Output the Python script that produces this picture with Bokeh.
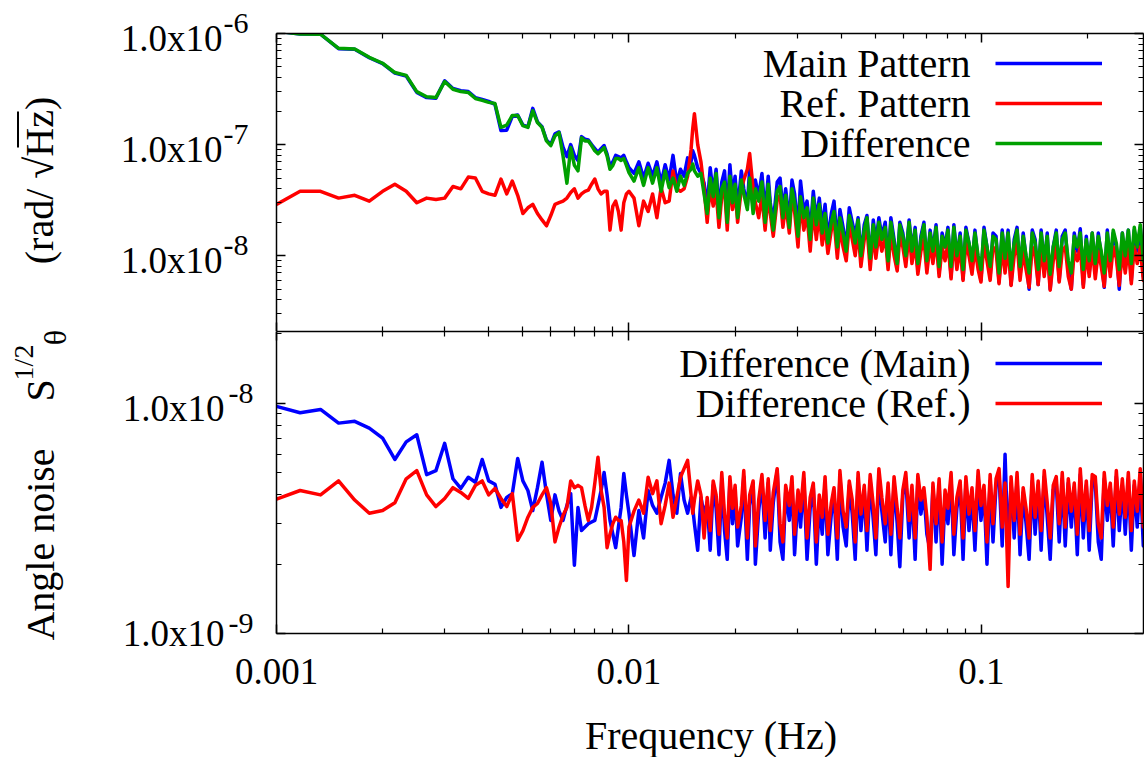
import numpy as np
from math import pi, log10
from bokeh.plotting import figure
from bokeh.layouts import row, column
from bokeh.models import (Range1d, LogAxis, FixedTicker, Label, Legend, LegendItem,
                          BoxAnnotation, NumeralTickFormatter, CustomJSTickFormatter)
from bokeh.embed import file_html
from bokeh.resources import INLINE

# ---------------- data ----------------
DF_HZ = 1.0 / 6000.0          # frequency resolution of the spectra
BINS_LOW = list(range(6, 61))
BINS_MID = [62, 64, 66, 68, 70, 72, 74, 76, 78, 80, 82, 84, 86, 88, 90, 91, 92, 94, 96, 98]
BINS_HIGH = [100, 102, 104, 106, 108, 110, 112, 114, 116, 118,
             120, 122, 125, 127, 130, 132, 135, 137, 140, 143,
             146, 149, 151, 154, 158, 161, 164, 167, 171, 174,
             177, 181, 184, 188, 192, 196, 200, 204, 208, 212,
             216, 220, 225, 229, 234, 238, 243, 248, 253, 258,
             263, 268, 273, 279, 284, 290, 296, 301, 307, 313,
             320, 326, 332, 339, 346, 352, 359, 366, 374, 381,
             389, 396, 404, 412, 420, 429, 437, 446, 455, 464,
             473, 482, 492, 501, 511, 522, 532, 542, 553, 564,
             575, 587, 598, 610, 622, 635, 647, 660, 673, 687,
             700, 714, 728, 743, 757, 772, 788, 803, 819, 836,
             852, 869, 886, 904, 922, 940, 959, 978, 997, 1017,
             1037, 1058, 1079, 1100, 1122, 1144, 1167, 1190, 1213, 1237,
             1262, 1287, 1312, 1338, 1365, 1392, 1419, 1448, 1476, 1506,
             1535, 1566, 1597, 1628, 1660, 1693, 1727, 1761]
BINS = BINS_LOW + BINS_MID + BINS_HIGH

# top panel, nrad/sqrt(Hz)
TOP_MAIN = [
    1050, 990, 985, 730, 720, 605, 535, 440, 415, 295,
    265, 262, 375, 320, 305, 300, 265, 255, 245, 230,
    134, 135, 180, 185, 150, 145, 212, 160, 145, 110,
    100, 125, 130, 95, 78, 100, 80, 72, 118, 112,
    110, 100, 92, 85, 92, 98, 82, 64, 70, 80,
    78, 76, 80, 70, 62,
    55, 70, 50, 68, 52, 70, 45, 66, 48, 80, 45, 60, 52, 76, 70, 88, 80, 62, 55, 45,
    28, 62, 36, 60, 26, 46, 58, 24, 66, 34,
    52, 26, 58, 40, 28, 62, 27, 48, 34, 55,
    24, 52, 30, 20, 46, 50, 25, 40, 20, 48,
    36, 17, 47, 25, 31, 16, 38, 21, 33, 18,
    29, 14, 24, 31, 13, 26, 18, 12, 27, 20,
    15, 22, 10, 19, 23, 9, 21, 13, 22, 15,
    20, 8.5, 22, 14, 8, 20, 16, 9.5, 21, 11,
    18, 7.5, 15, 20, 8, 17, 11, 19, 7, 16,
    12, 18, 6.5, 19, 9.5, 16, 6.2, 18, 13, 8,
    17, 9, 6, 18, 12, 6.5, 16, 15, 5.8, 17,
    8.5, 17, 5.5, 14, 18, 6.5, 16, 9.5, 5, 17,
    14, 5.5, 17, 8, 16, 5, 12, 17, 6, 15,
    17, 7.5, 5, 16, 11, 17.5, 5.5, 15, 7, 16,
    7, 16, 10, 5.2, 17, 7.5, 16, 12, 5, 16,
    8, 17, 6, 17, 11, 18, 6.5, 17]
TOP_REF = [
    29, 38, 38, 33, 35, 31, 38, 44, 38, 30,
    33, 32, 33, 42, 40, 51, 50, 38, 36, 35,
    49, 36, 47, 35, 24, 27, 29, 24, 21, 18.6,
    23, 29, 30, 31, 33, 37, 40, 33, 36, 38,
    39, 44, 49, 40, 36, 38, 38, 17, 28, 31,
    25, 17, 30, 36, 38,
    33, 18.6, 31, 25, 36, 22, 41, 30, 31, 58, 40, 38, 40, 52, 90, 140, 190, 100, 70, 40,
    20, 42, 28, 38, 18, 34, 40, 17, 48, 26,
    38, 20, 40, 48, 60, 83, 40, 30, 22, 35,
    17, 36, 24, 15, 32, 35, 18, 29, 16, 34,
    25, 12, 30, 17, 23, 11, 26, 14, 24, 12.5,
    19, 10.5, 17, 21, 9.5, 18, 12, 9, 19, 14,
    10, 17, 8, 14, 18, 7.5, 16, 9.5, 16, 11,
    15, 7.5, 16, 10, 7.3, 15, 12, 8, 16, 8.5,
    13, 6.8, 11, 14, 7, 13, 8.5, 14, 6.5, 12,
    9, 13, 6.2, 14, 7.5, 12, 6, 13, 10, 6.8,
    12, 7.5, 5.8, 13, 9, 6, 12, 11, 5.6, 12,
    7, 12, 5.4, 10, 13, 6, 11, 7.5, 5.2, 12,
    10, 5.5, 12, 6.5, 11, 4.9, 9, 12, 5.8, 11,
    12, 6.5, 5, 11, 9, 12, 5.2, 11, 6.5, 12,
    6.2, 11, 8, 5.3, 12, 6.5, 12, 9.5, 5.4, 11,
    7, 12, 5.6, 12, 8.5, 12, 6, 12]
TOP_DIFF = [
    1050, 990, 985, 735, 725, 610, 540, 445, 420, 300,
    270, 265, 370, 315, 300, 295, 260, 250, 240, 234,
    143, 150, 183, 183, 148, 143, 202, 158, 143, 108,
    98, 120, 128, 79, 45, 94, 65, 58, 115, 108,
    108, 98, 88, 83, 88, 94, 79, 60, 65, 75,
    75, 72, 75, 65, 56,
    47, 62, 43, 62, 45, 62, 38, 58, 41, 50, 38, 52, 43, 55, 60, 67, 58, 52, 55, 36,
    24, 50, 34, 55, 22, 40, 46, 20, 52, 30,
    44, 22, 48, 36, 26, 50, 24, 40, 31, 46,
    20, 44, 28, 17, 38, 42, 22, 35, 18, 40,
    30, 15, 34, 22, 27, 14, 33, 19, 29, 16,
    24, 13, 20, 25, 12, 22, 16, 11, 23, 18,
    13, 21, 10, 17, 22, 9.5, 19, 12, 20, 14,
    18, 9, 20, 13, 8.5, 19, 15, 10, 20, 11,
    17, 8.5, 14, 19, 9, 16, 11, 18, 8, 15,
    12, 17, 8, 18, 10, 15, 7.5, 17, 13, 9,
    16, 10, 7.5, 17, 12, 8, 15, 14, 7, 16,
    9.5, 16, 7.5, 13, 17, 8, 15, 10, 7, 16,
    13, 7.5, 16, 9, 15, 6.8, 12, 16, 8, 14,
    16, 9, 7, 15, 12, 16, 7.5, 14, 9, 16,
    8.5, 15, 11, 7, 16, 9, 17, 13, 7.5, 16,
    10, 17, 8.5, 18, 12, 19, 9, 18]

# bottom panel, nrad/sqrt(Hz)
BOT_MAIN = [
    9.7, 9.1, 9.4, 8.2, 8.35, 7.8, 7.05, 5.7, 6.8, 7.3,
    4.9, 5.1, 6.7, 4.7, 4.27, 4.77, 4.54, 5.7, 4.6, 4.45,
    3.53, 3.9, 4.05, 5.76, 4.6, 4.18, 3.42, 4.3, 5.54, 4.05,
    3.1, 4.0, 3.4, 3.1, 3.6, 4.05, 1.98, 3.53, 2.8, 2.9,
    3.0, 3.05, 3.1, 3.6, 4.18, 5.0, 4.0, 3.1, 2.7, 2.36,
    2.9, 3.53, 4.95, 4.0, 3.33,
    2.18, 3.42, 2.6, 4.18, 3.6, 3.33, 3.9, 4.5, 5.65, 4.0, 3.33, 4.95, 3.8, 3.33, 3.9, 3.5, 3.0, 2.3, 3.9, 3.3,
    3.7, 2.3, 4.4, 3.5, 2.2, 4.7, 2.8, 2.1, 4.6, 3.0,
    4.1, 2.4, 3.2, 4.8, 2.1, 3.6, 4.5, 2.0, 3.4, 4.6,
    2.6, 4.5, 2.3, 3.7, 5.1, 2.5, 2.1, 4.1, 3.1, 4.5,
    2.2, 4.0, 2.9, 4.7, 2.1, 3.5, 4.3, 2.0, 3.7, 2.7,
    4.5, 2.2, 3.3, 4.1, 2.1, 4.8, 2.9, 2.4, 4.4, 3.3,
    2.1, 4.7, 2.8, 4.2, 2.3, 4.6, 3.1, 2.2, 4.9, 3.4,
    2.5, 4.3, 2.2, 4.5, 3.0, 1.95, 4.0, 4.7, 2.6, 4.2,
    2.1, 4.6, 3.3, 4.1, 2.7, 2.3, 4.3, 2.5, 4.4, 2.0,
    3.9, 3.0, 4.7, 2.2, 3.5, 4.4, 2.1, 4.5, 2.8, 4.1,
    2.3, 4.8, 3.1, 4.2, 2.0, 4.6, 2.5, 4.4, 4.9, 2.4,
    6.0, 2.3, 4.5, 2.6, 4.7, 2.2, 4.1, 3.0, 2.1, 4.6,
    2.7, 4.4, 2.3, 4.8, 3.2, 2.1, 4.2, 4.5, 2.5, 4.7,
    2.4, 4.5, 2.9, 4.3, 2.2, 4.9, 2.6, 4.4, 2.3, 4.6,
    4.5, 2.5, 2.1, 4.7, 3.1, 4.3, 2.4, 4.8, 2.8, 4.4,
    2.7, 4.7, 2.3, 4.4, 2.9, 4.9, 2.4, 4.6]
BOT_REF = [
    3.83, 4.18, 4.0, 4.6, 3.8, 3.33, 3.42, 3.7, 4.7, 5.1,
    4.0, 3.56, 3.86, 4.3, 4.1, 3.86, 4.4, 4.6, 4.0, 4.27,
    3.86, 3.56, 4.05, 2.54, 2.8, 3.2, 3.53, 3.67, 4.0, 4.3,
    3.67, 2.5, 2.9, 3.26, 3.53, 4.6, 4.3, 4.4, 4.3, 3.6,
    3.1, 3.53, 4.5, 5.83, 4.2, 3.53, 2.36, 2.7, 3.0, 3.2,
    3.1, 3.1, 2.5, 1.7, 2.9,
    3.4, 3.8, 3.33, 4.77, 4.05, 4.6, 3.0, 3.6, 4.5, 3.2, 3.9, 4.77, 5.2, 5.65, 4.0, 3.33, 3.8, 4.6, 4.0, 2.6,
    3.9, 2.8, 4.6, 4.0, 2.7, 5.0, 3.3, 2.6, 4.8, 3.5,
    4.4, 2.9, 3.6, 5.1, 2.6, 4.0, 4.6, 2.4, 3.8, 4.9,
    3.1, 4.7, 2.8, 4.1, 5.2, 3.0, 2.5, 4.4, 3.6, 4.8,
    2.7, 4.2, 3.4, 5.0, 2.6, 3.9, 4.5, 2.5, 4.0, 3.2,
    4.8, 2.7, 3.7, 4.3, 2.6, 5.1, 3.4, 2.9, 4.6, 3.8,
    2.5, 5.0, 3.3, 4.4, 2.8, 4.9, 3.6, 2.6, 5.2, 3.9,
    3.0, 4.5, 2.7, 4.8, 3.5, 2.6, 4.2, 5.0, 3.1, 4.4,
    2.6, 4.9, 3.8, 4.3, 3.2, 1.9, 4.5, 3.0, 4.7, 2.5,
    4.2, 3.5, 5.0, 2.7, 3.9, 4.6, 2.6, 4.8, 3.3, 4.3,
    2.8, 5.1, 3.6, 4.4, 2.5, 4.9, 3.0, 4.7, 5.2, 2.9,
    4.5, 1.6, 4.8, 3.1, 5.0, 2.7, 4.3, 3.5, 2.6, 4.9,
    3.2, 4.6, 2.8, 5.1, 3.7, 2.6, 4.4, 4.8, 3.0, 5.0,
    2.9, 4.7, 3.4, 4.5, 2.7, 5.2, 3.1, 4.6, 2.8, 4.9,
    4.8, 3.0, 2.6, 5.0, 3.6, 4.5, 2.9, 5.1, 3.3, 4.7,
    3.2, 5.0, 2.8, 4.6, 3.4, 5.2, 2.9, 4.9]

TOP_LABELS = ["Main Pattern", "Ref. Pattern", "Difference"]
BOT_LABELS = ["Difference (Main)", "Difference (Ref.)"]
TOP_TICKS = [(1e-6, "-6"), (1e-7, "-7"), (1e-8, "-8")]
BOT_TICKS = [1e-8, 1e-9]
X_LABEL = "Frequency (Hz)"

for name, s in [("TOP_MAIN", TOP_MAIN), ("TOP_REF", TOP_REF), ("TOP_DIFF", TOP_DIFF),
                ("BOT_MAIN", BOT_MAIN), ("BOT_REF", BOT_REF)]:
    assert len(s) == len(BINS), (name, len(s), len(BINS))

freq = np.array(BINS) * DF_HZ
NANO = 1e-9

BLUE, RED, GREEN = "#0000ff", "#ff0000", "#00a000"
FONT = "Liberation Serif"
LW = 3.5

X_MAJOR = [0.001, 0.01, 0.1]
X_MINOR = [m * d for d in (0.001, 0.01, 0.1) for m in range(2, 10)]
Y_MAJOR = [1e-9, 1e-8, 1e-7, 1e-6]
Y_MINOR = [m * d for d in (1e-9, 1e-8, 1e-7) for m in range(2, 10)]

XR = (0.001, 0.2882)
TOP_YR = (2.08e-9, 1e-6)
BOT_YR = (1e-9, 2.05e-8)

# page geometry (px)
W = 1144
LAB_W = 98          # rotated y title column
TL_W = 162          # top panel tick-label column
FRAME_LEFT, FRAME_RIGHT = 276, 1143
TOP_FRAME_TOP, MID, BOT_FRAME_BOTTOM, XAX_BOTTOM = 33, 331, 633, 700

TOP_PX_PER_DEC = (MID - TOP_FRAME_TOP) / log10(TOP_YR[1] / TOP_YR[0])
BOT_PX_PER_DEC = (BOT_FRAME_BOTTOM - MID) / log10(BOT_YR[1] / BOT_YR[0])

BLANK = CustomJSTickFormatter(code="return '';")


def style_axis(ax, labels=False):
    ax.axis_line_color = "black"
    ax.axis_line_width = 1.5
    ax.major_tick_line_color = "black"
    ax.major_tick_line_width = 1.5
    ax.minor_tick_line_color = "black"
    ax.minor_tick_line_width = 1.2
    ax.major_tick_in = 9
    ax.major_tick_out = 0
    ax.minor_tick_in = 5
    ax.minor_tick_out = 0
    if not labels:
        ax.formatter = BLANK
        ax.major_label_text_font_size = "1px"
        ax.major_label_standoff = 0


def make_fig(width, height, yr, mb_left, mb_top, mb_bottom, xlabels):
    p = figure(width=width, height=height, x_axis_type="log", y_axis_type="log",
               x_range=Range1d(*XR), y_range=Range1d(*yr),
               x_axis_location=None, y_axis_location=None,
               output_backend="svg", toolbar_location=None,
               min_border_left=mb_left, min_border_right=W - FRAME_RIGHT,
               min_border_top=mb_top, min_border_bottom=mb_bottom)
    p.outline_line_color = None
    p.xgrid.visible = False
    p.ygrid.visible = False
    for loc in ("below", "above"):
        ax = LogAxis(ticker=FixedTicker(ticks=X_MAJOR, minor_ticks=X_MINOR))
        show = xlabels and loc == "below"
        style_axis(ax, labels=show)
        if show:
            ax.formatter = NumeralTickFormatter(format="0.[000]")
            ax.major_label_text_font = FONT
            ax.major_label_text_font_size = "37px"
            ax.major_label_text_color = "black"
            ax.major_label_standoff = 25
        p.add_layout(ax, loc)
    for loc in ("left", "right"):
        ax = LogAxis(ticker=FixedTicker(ticks=Y_MAJOR, minor_ticks=Y_MINOR))
        style_axis(ax)
        p.add_layout(ax, loc)
    return p


def legend(p, renderers, labels, frame_bottom, glyph_top):
    items = [LegendItem(label=" ", renderers=[r]) for r in renderers]
    n = len(items)
    leg = Legend(items=items, location=(995 - FRAME_LEFT, frame_bottom - (glyph_top + 40 * n)),
                 orientation="vertical", glyph_width=107, glyph_height=40,
                 label_width=1, label_height=1, label_standoff=0, padding=0, spacing=0,
                 margin=0, border_line_alpha=0, background_fill_alpha=0,
                 label_text_font_size="1px")
    p.add_layout(leg)
    for i, txt in enumerate(labels):
        p.add_layout(Label(x=970 - FRAME_LEFT, y=frame_bottom - (glyph_top + 20 + 40 * i),
                           x_units="screen", y_units="screen", text=txt,
                           text_align="right", text_baseline="middle",
                           text_font=FONT, text_font_size="40px", text_color="black"))


# ---------------- top panel ----------------
top_w = W - LAB_W - TL_W
top = make_fig(top_w, MID, TOP_YR, FRAME_LEFT - LAB_W - TL_W, TOP_FRAME_TOP, 0, False)
r1 = top.line(freq, np.array(TOP_MAIN) * NANO, line_color=BLUE, line_width=LW, line_join="round")
r2 = top.line(freq, np.array(TOP_REF) * NANO, line_color=RED, line_width=LW, line_join="round")
r3 = top.line(freq, np.array(TOP_DIFF) * NANO, line_color=GREEN, line_width=LW, line_join="round")
legend(top, [r1, r2, r3], TOP_LABELS, MID, 43)

# tick labels of the top panel: same log scale, frame extended up to the page top
tl = figure(width=TL_W, height=MID, x_range=Range1d(LAB_W, LAB_W + TL_W),
            y_axis_type="log",
            y_range=Range1d(TOP_YR[0], TOP_YR[1] * 10 ** (TOP_FRAME_TOP / TOP_PX_PER_DEC)),
            x_axis_location=None, y_axis_location=None, output_backend="svg",
            toolbar_location=None, min_border=0)
if "frame_align" in tl.properties():
    tl.frame_align = False
tl.outline_line_color = None
tl.xgrid.visible = False
tl.ygrid.visible = False
for val, ex in TOP_TICKS:
    tl.add_layout(Label(x=222, y=val, text="1.0x10", text_align="right",
                        text_baseline="middle", y_offset=-5, text_font=FONT,
                        text_font_size="37px", text_color="black"))
    tl.add_layout(Label(x=223, y=val, text=ex, text_align="left",
                        text_baseline="middle", y_offset=10, text_font=FONT,
                        text_font_size="30px", text_color="black"))

# ---------------- bottom panel ----------------
bot = make_fig(W - LAB_W, XAX_BOTTOM - MID, BOT_YR, FRAME_LEFT - LAB_W, 0,
               XAX_BOTTOM - BOT_FRAME_BOTTOM, True)
b1 = bot.line(freq, np.array(BOT_MAIN) * NANO, line_color=BLUE, line_width=LW, line_join="round")
b2 = bot.line(freq, np.array(BOT_REF) * NANO, line_color=RED, line_width=LW, line_join="round")
legend(bot, [b1, b2], BOT_LABELS, BOT_FRAME_BOTTOM - MID, 343 - MID)

# y tick labels of the bottom panel: exponent axis + mantissa axis
sup_ax = LogAxis(ticker=FixedTicker(ticks=[t * 10 ** (10 / BOT_PX_PER_DEC) for t in BOT_TICKS],
                                    minor_ticks=[]),
                 formatter=CustomJSTickFormatter(
                     code="return '-' + Math.round(-Math.log10(tick)).toString();"))
man_ax = LogAxis(ticker=FixedTicker(ticks=[BOT_TICKS[0] * 10 ** (-5 / BOT_PX_PER_DEC), BOT_TICKS[1]],
                                    minor_ticks=[]),
                 formatter=CustomJSTickFormatter(code="return '1.0x10';"))
for ax, size, standoff in [(sup_ax, "30px", 23), (man_ax, "37px", 1)]:
    ax.axis_line_alpha = 0
    ax.major_tick_in = 0
    ax.major_tick_out = 0
    ax.minor_tick_in = 0
    ax.minor_tick_out = 0
    ax.major_label_text_font = FONT
    ax.major_label_text_font_size = size
    ax.major_label_text_color = "black"
    ax.major_label_standoff = standoff
    bot.add_layout(ax, "left")

# x axis title strip (its frame lines up with the bottom panel frame)
xs = figure(width=W - LAB_W, height=757 - XAX_BOTTOM, x_range=Range1d(FRAME_LEFT, FRAME_RIGHT),
            y_range=Range1d(757, XAX_BOTTOM), x_axis_location=None, y_axis_location=None,
            output_backend="svg", toolbar_location=None,
            min_border_left=FRAME_LEFT - LAB_W, min_border_right=W - FRAME_RIGHT,
            min_border_top=0, min_border_bottom=0)
xs.outline_line_color = None
xs.xgrid.visible = False
xs.ygrid.visible = False
xs.add_layout(Label(x=710.5, y=735, text=X_LABEL, text_align="center",
                    text_baseline="middle", text_font=FONT, text_font_size="40px",
                    text_color="black"))

# ---------------- rotated y title ----------------
lab = figure(width=LAB_W, height=757, x_range=Range1d(0, LAB_W), y_range=Range1d(757, 0),
             x_axis_location=None, y_axis_location=None, output_backend="svg",
             toolbar_location=None, min_border=0)
lab.outline_line_color = None
lab.xgrid.visible = False
lab.ygrid.visible = False
for txt, x, y, size in [("Angle noise", 39.5, 544, "40px"), ("S", 39.5, 390, "40px"),
                        ("1/2", 23, 362, "28px"), ("\u03b8", 54, 337, "32px"),
                        ("(rad/ \u221aHz)", 38.5, 180, "40px")]:
    lab.add_layout(Label(x=x, y=y, text=txt, angle=pi / 2, text_align="center",
                         text_baseline="middle", text_font=FONT, text_font_size=size,
                         text_color="black"))
lab.add_layout(BoxAnnotation(left=16.5, right=18.5, top=111, bottom=147,
                             fill_color="black", fill_alpha=1, line_alpha=0))

layout = row(lab, column(row(tl, top), bot, xs))
open("out.html", "w").write(file_html(layout, INLINE))
